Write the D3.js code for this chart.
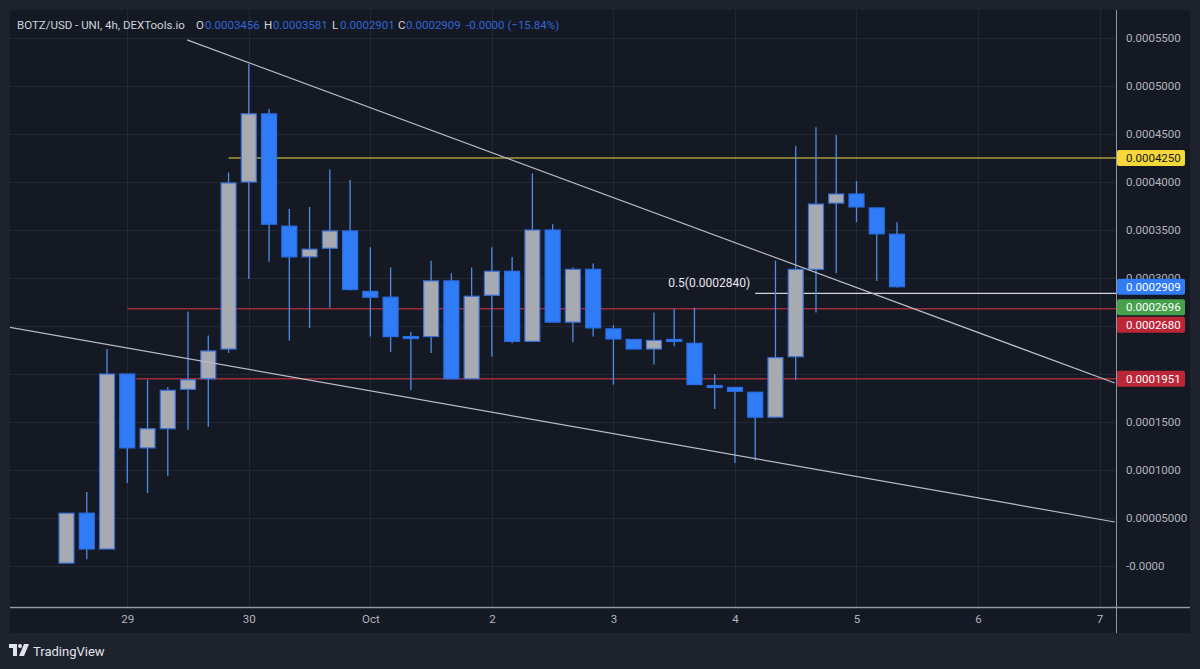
<!DOCTYPE html>
<html>
<head>
<meta charset="utf-8">
<script src="https://cdn.jsdelivr.net/npm/d3@7"></script>
<style>
  html, body { margin: 0; padding: 0; background: #1e222d; }
  svg { display: block; font-family: Roboto, "DejaVu Sans", sans-serif; }
</style>
</head>
<body>
<div id="chart"></div>
<script>
// --- data (BOTZ/USD 4h candles) ---
const opens  = [0.000003, 0.000055, 0.0000177, 0.000200, 0.000123, 0.000143, 0.000184, 0.000195, 0.000226, 0.000400,
                0.000471, 0.000354, 0.000322, 0.000331, 0.000349, 0.000286, 0.000280, 0.000239, 0.000239, 0.000297,
                0.000195, 0.000282, 0.000307, 0.000234, 0.000350, 0.000254, 0.000309, 0.000247, 0.000236, 0.000226,
                0.000236, 0.000232, 0.000188, 0.000186, 0.000181, 0.000155, 0.000218, 0.000309, 0.000378, 0.0003875,
                0.000373, 0.0003456];
const highs  = [0.000055, 0.000077, 0.000226, 0.000200, 0.000194, 0.0001865, 0.000265, 0.000240, 0.000410, 0.000523,
                0.000476, 0.000372, 0.000374, 0.000413, 0.000402, 0.000332, 0.000311, 0.000244, 0.000318, 0.000305,
                0.000311, 0.000332, 0.000322, 0.000409, 0.000356, 0.000311, 0.000315, 0.000251, 0.000236, 0.000264,
                0.000268, 0.000269, 0.000200, 0.000186, 0.000181, 0.000318, 0.0004375, 0.000457, 0.000449, 0.000401,
                0.000373, 0.0003581];
const lows   = [0.000003, 0.000007, 0.0000177, 0.0000865, 0.000076, 0.0000938, 0.000142, 0.000145, 0.000222, 0.000299,
                0.000317, 0.000235, 0.000248, 0.000269, 0.000287, 0.000239, 0.000223, 0.000183, 0.000222, 0.000195,
                0.000195, 0.000218, 0.000232, 0.000234, 0.000254, 0.000233, 0.000239, 0.000189, 0.000226, 0.000210,
                0.000229, 0.000189, 0.0001635, 0.0001073, 0.000110, 0.000155, 0.000194, 0.000264, 0.000305, 0.000358,
                0.000297, 0.0002901];
const closes = [0.000055, 0.0000177, 0.000200, 0.000123, 0.000143, 0.000183, 0.000194, 0.000224, 0.000399, 0.000471,
                0.000356, 0.000322, 0.000330, 0.000349, 0.000288, 0.000280, 0.000239, 0.000237, 0.000297, 0.000195,
                0.000281, 0.000307, 0.000234, 0.000350, 0.000254, 0.000309, 0.000248, 0.0002365, 0.000226, 0.000235,
                0.000234, 0.000189, 0.000186, 0.000182, 0.000155, 0.000217, 0.000309, 0.000377, 0.0003875, 0.000374,
                0.000346, 0.0002909];

// time axis: candle index of each day start, and its label
const dayIdx    = [3, 9, 15, 21, 27, 33, 39, 45, 51];
const dayLabels = ["29", "30", "Oct", "2", "3", "4", "5", "6", "7"];

// price axis ticks
const priceTicks  = [0, 0.00005, 0.0001, 0.00015, 0.0002, 0.00025, 0.0003, 0.00035, 0.0004, 0.00045, 0.0005, 0.00055];
const priceLabels = ["-0.0000", "0.00005000", "0.0001000", "0.0001500", "0.0002000", "0.0002500",
                     "0.0003000", "0.0003500", "0.0004000", "0.0004500", "0.0005000", "0.0005500"];

// drawings: trend lines (candle index, price) pairs
const trendStartIdx   = [5.95, -2.9];
const trendStartPrice = [0.000548, 0.000249];
const trendEndIdx     = [51.75, 51.75];
const trendEndPrice   = [0.0001906, 0.0000458];

// horizontal levels
const levelPrices   = [0.000425, 0.000268, 0.0001951, 0.000284];
const levelStartIdx = [8, 3, 3.45, 34];
const fibText = "0.5(0.0002840)";

// price tags on the axis
const tagPrices = [0.000425, 0.0002909, 0.0002696, 0.000268, 0.0001951];
const tagTexts  = ["0.0004250", "0.0002909", "0.0002696", "0.0002680", "0.0001951"];

const header = [
  ["BOTZ/USD - UNI, 4h, DEXTools.io", "#d1d4dc"],
  ["O", "#d1d4dc"], ["0.0003456", "#2f66d8"],
  ["H", "#d1d4dc"], ["0.0003581", "#2f66d8"],
  ["L", "#d1d4dc"], ["0.0002901", "#2f66d8"],
  ["C", "#d1d4dc"], ["0.0002909", "#2f66d8"],
  ["-0.0000 (\u221215.84%)", "#2f66d8"]
];
const headerX = [17, 196, 205, 264, 273, 332, 340, 398, 406, 466];

// --- layout ---
const WIDTH = 1200, HEIGHT = 669;
const PANE = { left: 10, top: 10, right: 1116, bottom: 607 };
const FRAME = { right: 1190, bottom: 633 };

const COLOR_UP = "#a8aab2", COLOR_DOWN = "#2f7cf6";
const COLOR_UP_BORDER = "#3a70d6", COLOR_DOWN_BORDER = "#2a6ee6", COLOR_WICK = "#4b8de8";
const levelColors = ["#f2d93c", "#a02a38", "#a02a38", "#d1d4dc"];
const levelWidths = [1.2, 1.5, 1.5, 1.3];
const tagFill = ["#f7d83a", "#2f7cf6", "#46a04c", "#bd2636", "#bd2636"];
const tagTextColor = ["#131722", "#ffffff", "#ffffff", "#ffffff", "#ffffff"];

const candles = opens.map((o, i) => ({ i, o, h: highs[i], l: lows[i], c: closes[i] }));

const svg = d3.select("#chart").append("svg")
    .attr("width", WIDTH)
    .attr("height", HEIGHT)
    .attr("viewBox", `0 0 ${WIDTH} ${HEIGHT}`);

const x = d3.scaleLinear().domain([0, 41]).range([66.5, 897]);
const y = d3.scaleLinear().domain([0, 0.00055]).range([566, 38]);
const step = x(1) - x(0);
const bodyW = step * 0.74;

// panel background
svg.append("rect")
    .attr("x", PANE.left).attr("y", PANE.top)
    .attr("width", FRAME.right - PANE.left).attr("height", FRAME.bottom - PANE.top)
    .attr("fill", "#151924");

svg.append("clipPath").attr("id", "pane")
  .append("rect")
    .attr("x", PANE.left).attr("y", PANE.top)
    .attr("width", PANE.right - PANE.left).attr("height", PANE.bottom - PANE.top);

const plot = svg.append("g").attr("clip-path", "url(#pane)");

// grid
plot.selectAll("line.hgrid")
    .data(priceTicks)
    .join("line")
    .attr("class", "hgrid")
    .attr("x1", PANE.left).attr("x2", PANE.right)
    .attr("y1", d => Math.round(y(d)) + 0.5).attr("y2", d => Math.round(y(d)) + 0.5)
    .attr("stroke", "#232733").attr("stroke-width", 1);

plot.selectAll("line.vgrid")
    .data(dayIdx)
    .join("line")
    .attr("class", "vgrid")
    .attr("x1", d => Math.round(x(d)) + 0.5).attr("x2", d => Math.round(x(d)) + 0.5)
    .attr("y1", PANE.top).attr("y2", PANE.bottom)
    .attr("stroke", "#232733").attr("stroke-width", 1);

// horizontal levels
plot.selectAll("line.level")
    .data(levelPrices)
    .join("line")
    .attr("class", "level")
    .attr("x1", (d, k) => x(levelStartIdx[k])).attr("x2", PANE.right)
    .attr("y1", d => y(d)).attr("y2", d => y(d))
    .attr("stroke", (d, k) => levelColors[k])
    .attr("stroke-width", (d, k) => levelWidths[k]);

plot.append("text")
    .attr("x", x(levelStartIdx[3]) - 5)
    .attr("y", y(levelPrices[3]) - 6)
    .attr("text-anchor", "end")
    .style("font-size", "12px")
    .style("fill", "#e8eaf0")
    .text(fibText);

// wicks
plot.selectAll("line.wick")
    .data(candles)
    .join("line")
    .attr("class", "wick")
    .attr("x1", d => x(d.i)).attr("x2", d => x(d.i))
    .attr("y1", d => y(d.h)).attr("y2", d => y(d.l))
    .attr("stroke", COLOR_WICK).attr("stroke-width", 1.3);

// bodies
plot.selectAll("rect.body")
    .data(candles)
    .join("rect")
    .attr("class", "body")
    .attr("x", d => x(d.i) - bodyW / 2)
    .attr("width", bodyW)
    .attr("y", d => y(Math.max(d.o, d.c)))
    .attr("height", d => Math.max(2, Math.abs(y(d.o) - y(d.c))))
    .attr("fill", d => d.c >= d.o ? COLOR_UP : COLOR_DOWN)
    .attr("stroke", d => d.c >= d.o ? COLOR_UP_BORDER : COLOR_DOWN_BORDER)
    .attr("stroke-width", 1.2);

// trend lines
plot.selectAll("line.trend")
    .data(trendStartIdx)
    .join("line")
    .attr("class", "trend")
    .attr("x1", (d, k) => x(d)).attr("y1", (d, k) => y(trendStartPrice[k]))
    .attr("x2", (d, k) => x(trendEndIdx[k])).attr("y2", (d, k) => y(trendEndPrice[k]))
    .attr("stroke", "#b8bbc4").attr("stroke-width", 1.2);

// axis separators
svg.append("line")
    .attr("x1", PANE.right + 0.5).attr("x2", PANE.right + 0.5)
    .attr("y1", PANE.top).attr("y2", FRAME.bottom)
    .attr("stroke", "#9598a1").attr("stroke-width", 1);
svg.append("line")
    .attr("x1", PANE.left).attr("x2", FRAME.right)
    .attr("y1", PANE.bottom + 0.5).attr("y2", PANE.bottom + 0.5)
    .attr("stroke", "#9598a1").attr("stroke-width", 1.5);

// price tags, stacked so they do not overlap
const tagH = 16;
let tagY = tagPrices.map(p => y(p));
for (let k = 1; k < tagY.length; k++) {
  if (tagY[k] - tagY[k - 1] < tagH + 1.5) tagY[k] = tagY[k - 1] + tagH + 1.5;
}

// price axis (labels sitting right under a tag are hidden by it)
const hiddenByTag = d => tagY.some(t => Math.abs(t - y(d)) < 7);
const yAxis = svg.append("g")
    .attr("transform", `translate(${PANE.right + 10},0)`)
    .call(d3.axisRight(y).tickValues(priceTicks.filter(d => !hiddenByTag(d))).tickSize(0).tickPadding(0)
        .tickFormat(d => priceLabels[priceTicks.indexOf(d)]));
yAxis.select(".domain").remove();
yAxis.selectAll("text")
    .style("font-size", "11.5px")
    .style("font-family", "Roboto, sans-serif")
    .attr("fill", "#b2b5be");

// time axis
const xAxis = svg.append("g")
    .attr("transform", `translate(0,${PANE.bottom + 8})`)
    .call(d3.axisBottom(x).tickValues(dayIdx).tickSize(0).tickPadding(0)
        .tickFormat((d, k) => dayLabels[k]));
xAxis.select(".domain").remove();
xAxis.selectAll("text")
    .style("font-size", "11.5px")
    .style("font-family", "Roboto, sans-serif")
    .attr("fill", "#b2b5be");

const tags = svg.selectAll("g.tag")
    .data(tagPrices)
    .join("g")
    .attr("class", "tag")
    .attr("transform", (d, k) => `translate(${PANE.right + 1},${tagY[k]})`);
tags.append("rect")
    .attr("x", 0).attr("y", -tagH / 2)
    .attr("width", 68).attr("height", tagH)
    .attr("rx", 2)
    .attr("fill", (d, k) => tagFill[k]);
tags.append("text")
    .attr("x", 9).attr("y", 4)
    .style("font-size", "11.5px")
    .style("fill", (d, k) => tagTextColor[k])
    .text((d, k) => tagTexts[k]);

// legend header
svg.selectAll("text.head")
    .data(header)
    .join("text")
    .attr("class", "head")
    .attr("x", (d, k) => headerX[k])
    .attr("y", 29)
    .style("font-size", "11.5px")
    .style("fill", d => d[1])
    .text(d => d[0]);

// TradingView mark
const logo = svg.append("g").attr("transform", "translate(9,644)");
logo.append("path")
    .attr("d", "M0,0 H8 V12 H4 V4 H0 Z")
    .attr("fill", "#e0e3eb");
logo.append("circle").attr("cx", 11).attr("cy", 2).attr("r", 2).attr("fill", "#e0e3eb");
logo.append("path")
    .attr("d", "M15,0 H20 L15,12 H10 Z")
    .attr("fill", "#e0e3eb");
svg.append("text")
    .attr("x", 33).attr("y", 656)
    .style("font-size", "13px")
    .style("font-family", "Roboto, sans-serif")
    .style("fill", "#e0e3eb")
    .text("TradingView");
</script>
</body>
</html>
